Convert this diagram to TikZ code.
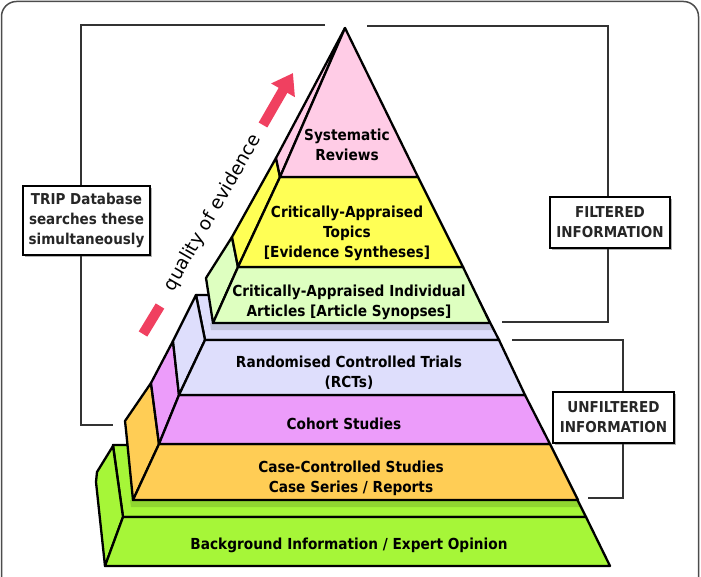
\documentclass[tikz,border=0pt]{standalone}
\usepackage{fontspec}
\setmainfont{DejaVu Sans}
\newfontfamily\labfont[FakeStretch=0.9]{DejaVu Sans}
\usetikzlibrary{arrows.meta,shadows}
\definecolor{pinkC}{RGB}{255,204,230}
\definecolor{yellowC}{RGB}{255,255,85}
\definecolor{lgreenC}{RGB}{222,255,192}
\definecolor{lavC}{RGB}{222,222,252}
\definecolor{violetC}{RGB}{236,156,250}
\definecolor{orangeC}{RGB}{255,205,85}
\definecolor{bgC}{RGB}{166,246,56}
\definecolor{arrowC}{RGB}{240,64,96}
\begin{document}
\begin{tikzpicture}[x=1pt,y=-1pt,
  face/.style={draw=black,line width=2.3pt,line join=round},
  lbl/.style={font=\labfont\fontsize{15.2}{20}\selectfont\bfseries,align=center,text=black,inner sep=0pt},
  infobox/.style={draw=black,line width=2.2pt,fill=white,
    font=\labfont\fontsize{15}{20}\selectfont\bfseries,align=center,text=black!85,inner sep=0pt,
    general shadow={fill=black!30,shadow xshift=2pt,shadow yshift=-2pt}},
  brk/.style={draw=black!80,line width=1.4pt},
  shade/.style={fill=black,opacity=0.13}]
\useasboundingbox (0,0) rectangle (701,577);
\clip (0,0) rectangle (701,577);
% frame
\draw[black!70,line width=1.5pt,rounded corners=15pt] (1.5,1.5) rectangle (698.5,640);

% background slab
\fill[bgC,face] (113,445) -- (550,445) -- (586,517) -- (123,517) -- cycle;
\fill[shade] (130,500) -- (578,500) -- (581,507) -- (131,507) -- cycle;
\fill[bgC,face] (113,446) -- (123,517) -- (105,566) -- (96,482) -- (97,472) -- cycle;
\fill[bgC,face] (123,517) -- (586,517) -- (610,566) -- (105,566) -- cycle;
% case slab
\fill[orangeC,face] (151,383) -- (159,444) -- (133,500) -- (126,430) -- (125,421) -- cycle;
\fill[orangeC,face] (159,444) -- (550,444) -- (578,500) -- (133,500) -- cycle;
% cohort slab
\fill[violetC,face] (173,341) -- (179,395) -- (159,444) -- (151,383) -- cycle;
\fill[violetC,face] (179,395) -- (525,395) -- (550,444) -- (159,444) -- cycle;
% RCT slab
\fill[lavC,face] (196,295) -- (476,295) -- (499,340) -- (205,340) -- cycle;
\fill[shade] (210,323) -- (490,323) -- (493,330) -- (211,330) -- cycle;
\fill[lavC,face] (196,295) -- (205,340) -- (179,395) -- (173,341) -- cycle;
\fill[lavC,face] (205,340) -- (499,340) -- (525,395) -- (179,395) -- cycle;
% articles slab
\fill[lgreenC,face] (232,237) -- (238,267) -- (213,323) -- (206,278) -- cycle;
\fill[lgreenC,face] (238,267) -- (463,267) -- (490,323) -- (213,323) -- cycle;
% topics slab
\fill[yellowC,face] (276,158) -- (280,177) -- (238,267) -- (232,237) -- cycle;
\fill[yellowC,face] (280,177) -- (418,177) -- (463,267) -- (238,267) -- cycle;
% systematic reviews
\fill[pinkC,face] (345,28) -- (280,177) -- (276,158) -- cycle;
\fill[pinkC,face] (345,28) -- (418,177) -- (280,177) -- cycle;

% labels
\node[lbl] (sr) at (347,144.5) {Systematic\\Reviews};
\node[lbl] (cat) at (347,233.5) {Critically-Appraised\\Topics\\{[}Evidence Syntheses{]}};
\node[lbl] (cai) at (349,302.5) {Critically-Appraised Individual\\Articles {[}Article Synopses{]}};
\node[lbl] (rct) at (349,373) {Randomised Controlled Trials\\(RCTs)};
\node[lbl] (coh) at (344,424) {Cohort Studies};
\node[lbl] (ccs) at (351,478) {Case-Controlled Studies\\Case Series / Reports};
\node[lbl] (bio) at (349,545) {Background Information / Expert Opinion};

% quality of evidence arrow
\coordinate (b1) at (143,334);
\coordinate (b2) at (160,306);
\coordinate (a1) at (263,125);
\coordinate (a2) at (293,73);
\draw[arrowC,line width=10pt] (b1) -- (b2);
\draw[arrowC,line width=10pt,-{Triangle[width=26pt,length=20pt]}] (a1) -- (a2);
\node[font=\fontsize{18.5}{18}\selectfont,rotate=60,inner sep=0pt] (qe) at (213,213) {quality of evidence};

% TRIP bracket
\node[infobox,minimum width=127pt,minimum height=69pt] (trip) at (86.5,220.5) {TRIP Database\\searches these\\simultaneously};
\coordinate (L1) at (325,25);
\coordinate (L2) at (81,25);
\coordinate (L3) at (81,425);
\coordinate (L4) at (113,425);
\draw[brk] (L1) -- (L2) -- (L2 |- trip.north);
\draw[brk] (trip.south -| L2) -- (L3) -- (L4);

% filtered bracket
\node[infobox,minimum width=120pt,minimum height=51pt] (fbox) at (610,222.5) {FILTERED\\INFORMATION};
\coordinate (F1) at (367,26);
\coordinate (F2) at (608,26);
\coordinate (F3) at (608,322);
\coordinate (F4) at (502,322);
\draw[brk] (F1) -- (F2) -- (F2 |- fbox.north);
\draw[brk] (fbox.south -| F2) -- (F3) -- (F4);

% unfiltered bracket
\node[infobox,minimum width=121pt,minimum height=51pt] (ubox) at (613.5,417.5) {UNFILTERED\\INFORMATION};
\coordinate (U1) at (512,340);
\coordinate (U2) at (623,340);
\coordinate (U3) at (623,498);
\coordinate (U4) at (588,498);
\draw[brk] (U1) -- (U2) -- (U2 |- ubox.north);
\draw[brk] (ubox.south -| U2) -- (U3) -- (U4);
\end{tikzpicture}
\end{document}
